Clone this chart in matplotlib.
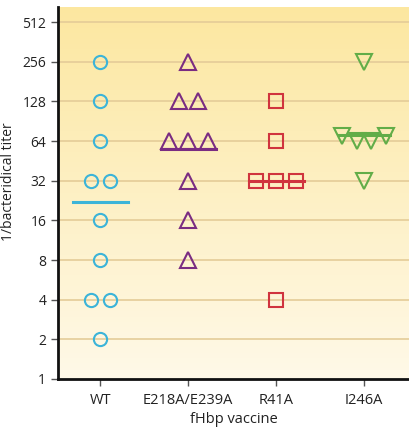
import matplotlib
matplotlib.use("Agg")
import matplotlib.pyplot as plt
import numpy as np

groups = ["WT", "E218A/E239A", "R41A", "I246A"]

# titer values per group, with horizontal offsets (in category units)
wt_titers = [256, 128, 64, 32, 32, 16, 8, 4, 4, 2]
wt_offsets = [0, 0, 0, -0.11, 0.11, 0, 0, -0.11, 0.11, 0]
e218_titers = [256, 128, 128, 64, 64, 64, 32, 16, 8]
e218_offsets = [0, -0.11, 0.11, -0.22, 0, 0.22, 0, 0, 0]
r41_titers = [128, 64, 32, 32, 32, 4]
r41_offsets = [0, 0, -0.23, 0, 0.23, 0]
i246_titers = [256, 70, 64, 64, 70, 32]
i246_offsets = [0, -0.25, -0.08, 0.08, 0.25, 0]

mean_titers = [22, 56, 32, 71]

colors = ["#3cb4d8", "#7a2c82", "#d0343e", "#62ad48"]
markers = ["o", "^", "s", "v"]
sizes = [9.5, 11, 9.5, 11]

plt.rcParams["font.family"] = ["Open Sans", "DejaVu Sans"]

fig = plt.figure(figsize=(4.1, 4.28), dpi=100)
ax = fig.add_axes([0.1415, 0.1145, 0.8585, 0.869])

# vertical background gradient
grad = np.linspace(0, 1, 256).reshape(-1, 1)
top = np.array([252, 231, 160]) / 255
bot = np.array([255, 249, 232]) / 255
img = top[None, None, :] * (1 - grad[:, :, None]) + bot[None, None, :] * grad[:, :, None]
ax.imshow(img, extent=[0, 1, 0, 1], transform=ax.transAxes, aspect="auto", zorder=0)

ax.set_yscale("log", base=2)
ax.set_ylim(1, 2 ** 9.38)
ax.set_xlim(-0.48, 3.52)
yt = [1, 2, 4, 8, 16, 32, 64, 128, 256, 512]
ax.set_yticks(yt)
ax.set_yticklabels([str(v) for v in yt])
ax.yaxis.set_minor_locator(matplotlib.ticker.NullLocator())
for v in yt[1:]:
    ax.axhline(v, color="#e4cc98", lw=1.2, zorder=1)

data = [(wt_titers, wt_offsets), (e218_titers, e218_offsets),
        (r41_titers, r41_offsets), (i246_titers, i246_offsets)]
half_widths = [0.31, 0.31, 0.31, 0.29]
for i, (vals, offs) in enumerate(data):
    xs = [i + o for o in offs]
    ax.plot(xs, vals, linestyle="none", marker=markers[i], ms=sizes[i],
            mfc="none", mec=colors[i], mew=1.5, zorder=3)
    ax.plot([i - half_widths[i], i + half_widths[i]], [mean_titers[i]] * 2,
            color=colors[i], lw=2.2, zorder=4)

ax.set_xticks(range(len(groups)))
ax.set_xticklabels(groups)
ax.tick_params(axis="both", color="#555555", length=5, width=1,
               labelcolor="#222222")
ax.tick_params(axis="y", labelsize=10)
ax.tick_params(axis="x", labelsize=10.5, pad=5)
for s in ["top", "right"]:
    ax.spines[s].set_visible(False)
for s in ["left", "bottom"]:
    ax.spines[s].set_linewidth(2)
    ax.spines[s].set_color("#111111")

ax.set_ylabel("1/bacteridical titer", fontsize=10, color="#222222")
ax.yaxis.set_label_coords(-0.118, 0.53)
ax.set_xlabel("fHbp vaccine", fontsize=10.5, color="#222222", labelpad=3)

fig.savefig("out.png", dpi=100)
